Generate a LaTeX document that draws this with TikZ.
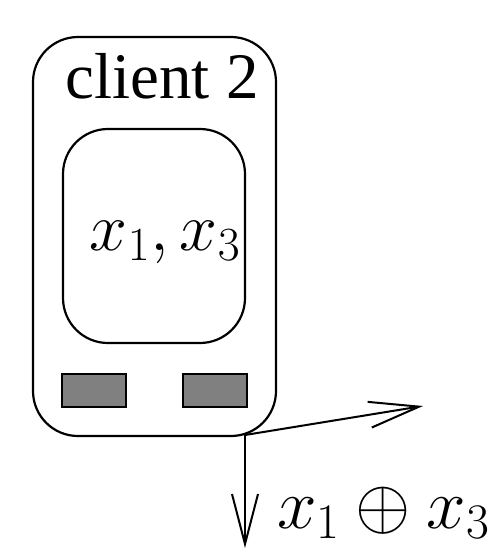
\RequirePackage{fix-cm}
\documentclass[tikz,border=0pt]{standalone}
\usepackage[no-math]{fontspec}
\setmainfont{Liberation Serif}
\usetikzlibrary{arrows.meta}

\tikzset{
  box/.style={draw, line width=2.2pt, rounded corners=45pt, inner sep=0pt},
  port/.style={draw, line width=2pt, fill=black!50, inner sep=0pt,
    minimum width=64pt, minimum height=33pt},
  link/.style={line width=2pt, -{Straight Barb[length=50pt,width=26pt,line width=2pt]}},
  big/.style={font=\fontsize{65}{70}\selectfont, inner sep=0pt}
}

\begin{document}
\begin{tikzpicture}[x=1pt, y=-1pt]
\useasboundingbox (0,0) rectangle (495,549);

\node[box, minimum width=243pt, minimum height=399pt] (client) at (154.5,236.5) {};
\node[box, minimum width=182pt, minimum height=214pt] (store) at (154,236) {};

\node[big, anchor=base] (name) at (162,98) {client 2};
\node[big, font=\fontsize{68}{72}\selectfont, anchor=base] (data) at (165,250) {$x_1,x_3$};

\node[port] (portA) at (94,390.5) {};
\node[port] (portB) at (214.5,390.5) {};

\coordinate (out) at (245,435);
\coordinate (right) at (423,406);
\coordinate (down) at (245,548);
\draw[link] (out) -- (right);
\draw[link] (out) -- (down);

\node[big, font=\fontsize{71}{75}\selectfont, anchor=base west] (sum) at (277,528) {$x_1 \oplus x_3$};
\end{tikzpicture}
\end{document}
